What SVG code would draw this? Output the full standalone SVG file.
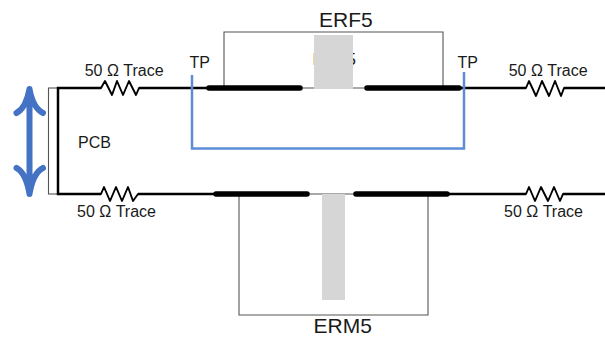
<svg xmlns="http://www.w3.org/2000/svg" width="605" height="339" viewBox="0 0 605 339">
<style>
text{font-family:"Liberation Sans",Arial,sans-serif;fill:#1a1a1a}
.t{font-size:16px}.big{font-size:21px}
.w{fill:none;stroke:#000;stroke-width:2.500}
.r{fill:none;stroke:#000;stroke-width:1.900;stroke-linejoin:round;stroke-linecap:round}
.pad{stroke:#000;stroke-width:5.500;stroke-linecap:round;fill:none}
.thin{fill:none;stroke:#555;stroke-width:1.100}
.gray{fill:#d6d6d6}
</style>
<rect width="605" height="339" fill="#fff"/>
<g id="pcb">
<rect class="thin" x="48.500" y="88" width="9.500" height="106"/>
<text class="t" x="78" y="148">PCB</text>
</g>
<g id="connectors">
<path class="w" d="M101 88H58V194H101M139 88H207M138 194H214"/>
<path class="w" d="M461 88H526M564 88H605"/>
<path class="w" d="M449 194H526M563 194H605"/>
<path d="M302 88H366M309 194H354" fill="none" stroke="#555" stroke-width="1.100"/>
</g>
<g id="trace-top-left">
<path class="r" d="M101 88L105 81L112 95L117 81L123 95L129 81L136 95L139 88"/>
<text class="t" x="84.700" y="76">50 Ω Trace</text>
</g>
<g id="trace-bottom-left">
<path class="r" d="M101 194L104 187L110 201L116 187L122 201L128 187L133 201L138 194"/>
<text class="t" x="77" y="216.700">50 Ω Trace</text>
</g>
<g id="trace-top-right">
<path class="r" d="M526 88L529 81L536 96L542 81L549 96L555 81L561 96L564 88"/>
<text class="t" x="508.700" y="76">50 Ω Trace</text>
</g>
<g id="trace-bottom-right">
<path class="r" d="M526 194L529 187L535 201L541 187L548 201L554 187L560 201L563 194"/>
<text class="t" x="504" y="216.700">50 Ω Trace</text>
</g>
<g id="erf5">
<path class="thin" d="M224 88V32H443V88"/>
<text x="312.500" y="65" style="font-size:17px">ERF5</text>
<rect class="gray" x="314" y="35" width="39" height="54"/>
<path class="pad" d="M209 88H300M367 88H459"/>
<text class="big" x="319" y="27">ERF5</text>
</g>
<g id="erm5">
<path class="thin" d="M239 194V315H428V194"/>
<rect class="gray" x="322" y="194" width="23" height="106"/>
<path class="pad" d="M216 194H307M356 194H447"/>
<text class="big" x="313.500" y="333">ERM5</text>
</g>
<g id="test-points">
<path d="M192 75V148.500H464V72" fill="none" stroke="#5b8dd6" stroke-width="2.500"/>
<text class="t" x="189.500" y="68">TP</text>
<text class="t" x="457.500" y="68">TP</text>
</g>
<g id="arrow">
<path d="M29.500 89V194M16.500 113Q26 108 29.500 89Q33 108 43 113M16.500 168Q26 173 29.500 194Q33 173 43 168" fill="none" stroke="#4472c4" stroke-width="6" stroke-linecap="round" stroke-linejoin="round"/>
</g>
</svg>
